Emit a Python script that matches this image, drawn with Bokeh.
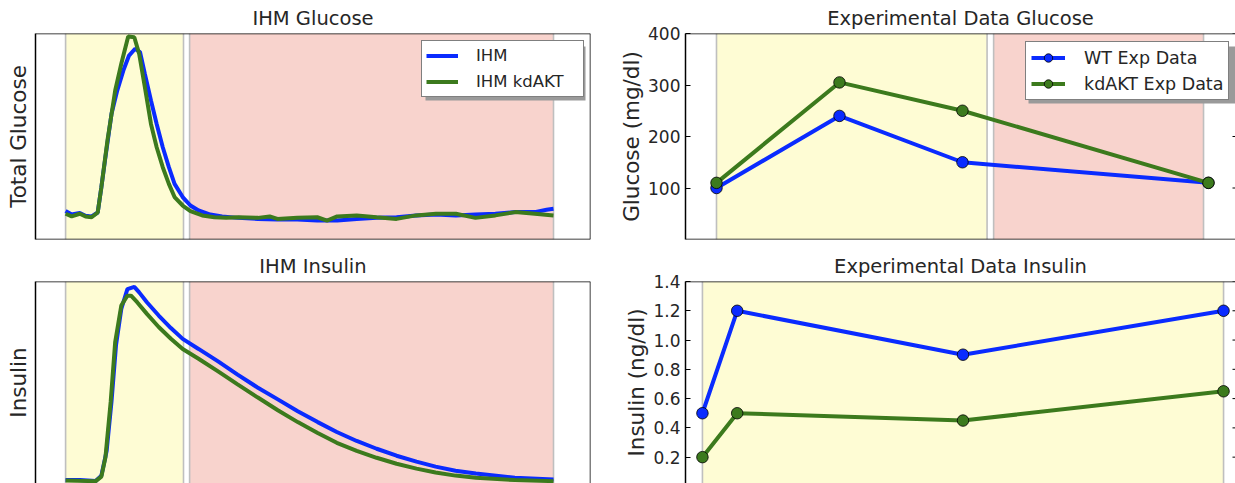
from bokeh.plotting import figure
from bokeh.layouts import column, row
from bokeh.models import (Range1d, BoxAnnotation, Span, Legend, LegendItem, FixedTicker,
                          PrintfTickFormatter)
from bokeh.embed import file_html
from bokeh.resources import INLINE

FONT = "DejaVu Sans"
BLUE = "#0a2bff"
GREEN = "#3c7a1d"
YELLOW = "#fefcd4"
PINK = "#f8d3cd"
EDGE = "#bfbfbf"
TEXT = "#262626"
SHADOW = "#9a9a9a"

# ---------------- IHM model curves (arbitrary units, time in model minutes) ----------------
glc_ihm_t = [0, 1.5, 3.5, 4.9, 6.4, 7.9, 8.8, 9.8, 11.3, 12.7, 14.2, 15.6, 17.1, 18.3, 19.5,
             21.0, 22.4, 23.9, 25.4, 26.8, 28.8, 30.7, 32.7, 35.6, 38.5, 42.4, 47.3, 52.1,
             57.0, 61.9, 66.8, 71.6, 76.5, 81.4, 86.2, 91.1, 96.0, 100.8, 105.7, 110.6,
             115.4, 118.3, 120.0]
glc_ihm = [13.8, 12.1, 12.9, 11.5, 11.2, 13.1, 25.4, 40.0, 61.0, 72.3, 82.0, 89.3, 92.6, 91.0,
           80.4, 67.5, 56.1, 44.8, 35.1, 27.0, 20.6, 16.5, 14.1, 12.1, 11.2, 10.5, 10.0, 9.7,
           9.7, 9.2, 9.2, 10.0, 10.5, 10.8, 11.7, 12.1, 11.7, 12.1, 12.5, 13.3, 13.3, 14.4, 14.9]

glc_kd_t = [0, 1.5, 3.5, 4.9, 6.4, 7.9, 8.8, 10.3, 12.2, 13.7, 15.4, 16.9, 18.1, 19.5, 21.0,
            22.4, 23.9, 25.4, 26.8, 28.8, 30.7, 33.6, 36.6, 39.5, 42.4, 47.3, 50.2, 52.1,
            57.0, 61.9, 64.3, 66.8, 71.6, 76.5, 81.4, 86.2, 91.1, 96.0, 100.8, 105.7,
            110.6, 115.4, 120.0]
glc_kd = [12.5, 11.2, 12.5, 11.2, 10.8, 13.1, 25.4, 48.1, 72.3, 85.3, 98.5, 98.2, 90.1, 73.9,
          56.1, 44.8, 35.1, 27.0, 20.6, 16.5, 13.8, 11.7, 10.8, 10.5, 10.8, 10.5, 11.2, 10.0,
          10.5, 10.8, 9.2, 11.2, 11.7, 10.8, 10.0, 11.7, 12.5, 12.5, 10.5, 11.7, 13.3, 12.5, 11.7]

ins_ihm_t = [0, 3.5, 7.4, 8.8, 10.1, 11.3, 12.4, 13.7, 15.2, 16.9, 18.1, 20.0, 22.9, 25.9,
             28.8, 32.7, 37.6, 42.3, 47.2, 52.2, 57.1, 62.0, 66.7, 71.6, 76.5, 81.4, 86.3,
             91.0, 95.9, 100.9, 110.5, 120.0]
ins_ihm = [3.2, 3.2, 2.7, 5.3, 17.4, 41.5, 68.9, 86.6, 96.3, 97.4, 94.7, 89.9, 83.4, 77.3,
           72.0, 67.1, 60.9, 54.6, 48.3, 42.5, 36.7, 31.4, 26.6, 22.2, 18.4, 15.0, 12.1,
           9.7, 7.7, 6.3, 4.3, 3.4]

ins_kd_t = [0, 7.4, 8.8, 9.8, 11.1, 12.2, 13.7, 15.2, 16.1, 17.6, 20.0, 22.9, 25.9, 28.8,
            32.7, 37.6, 42.3, 47.2, 52.2, 57.1, 62.0, 66.7, 71.6, 76.5, 81.4, 86.3, 91.0,
            95.9, 100.9, 110.5, 120.0]
ins_kd = [2.9, 2.6, 4.8, 14.2, 41.5, 70.5, 88.3, 93.1, 93.1, 89.9, 84.2, 77.8, 72.1, 67.1,
          62.3, 56.0, 49.8, 43.5, 37.2, 31.4, 26.1, 21.3, 17.4, 14.0, 11.1, 8.7, 6.8, 5.3,
          4.3, 3.1, 2.6]

ihm_yellow = [0, 29.0]
ihm_pink = [30.5, 120.0]

# ---------------- Experimental data ----------------
exp_glc_time = [0, 15, 30, 60]
exp_glc_wt = [100, 240, 150, 110]
exp_glc_kd = [110, 305, 250, 110]
exp_glc_yellow = [0, 33.0]
exp_glc_pink = [33.8, 59.4]
glc_ticks = [100, 200, 300, 400]

exp_ins_time = [0, 8, 60, 120]
exp_ins_wt = [0.5, 1.2, 0.9, 1.2]
exp_ins_kd = [0.2, 0.5, 0.45, 0.65]
exp_ins_yellow = [0, 120]
ins_ticks = [0.2, 0.4, 0.6, 0.8, 1.0, 1.2, 1.4]

LW = 4


def make_fig(width, height, xr, yr, mbl, mbr, mbt, mbb, title, ylabel):
    p = figure(width=width, height=height, x_range=xr, y_range=yr,
               output_backend="svg", toolbar_location=None,
               min_border_left=mbl, min_border_right=mbr,
               min_border_top=mbt, min_border_bottom=mbb, title=title)
    p.outline_line_color = None
    p.grid.visible = False
    p.xaxis.visible = False
    p.background_fill_color = "white"
    p.border_fill_color = "white"
    t = p.title
    t.align = "center"
    t.text_font = FONT
    t.text_font_size = "19.5px"
    t.text_font_style = "normal"
    t.text_color = TEXT
    t.standoff = 8
    ax = p.yaxis[0]
    ax.axis_label = ylabel
    ax.axis_label_text_font = FONT
    ax.axis_label_text_font_size = "21.5px"
    ax.axis_label_text_font_style = "normal"
    ax.axis_label_text_color = TEXT
    ax.axis_line_color = "black"
    ax.axis_line_width = 1.5
    ax.minor_tick_line_color = None
    ax.minor_tick_out = 0
    ax.minor_tick_in = 0
    ax.major_label_text_font = FONT
    ax.major_label_text_color = TEXT
    return p


def right_ticks(p, xr, ticks, frame_px):
    # short inward tick marks on the (cropped) right edge, at the tick values
    d = 3.0 / frame_px * (xr.end - xr.start)
    n = len(ticks)
    p.segment(x0=[xr.end - d] * n, y0=ticks, x1=[xr.end] * n, y1=ticks,
              line_color="black", line_width=1)


def shade(p, span, color):
    p.add_layout(BoxAnnotation(left=span[0], right=span[1], fill_color=color, fill_alpha=1.0,
                               line_color=None, level="underlay"))
    for loc in span:
        p.add_layout(Span(location=loc, dimension="height", line_color=EDGE, line_width=1.6,
                          level="underlay"))


def border(p, side, loc):
    dim = "width" if side in ("top", "bottom") else "height"
    p.add_layout(Span(location=loc, dimension=dim, line_color="black", line_width=1.5))


def shadow(p, frame, xr, yr, box):
    # frame/box given in screen pixels (left, right, top, bottom); converted to data units
    L, R, T, B = frame
    def fx(px):
        return xr.start + (px - L) / (R - L) * (xr.end - xr.start)
    def fy(py):
        return yr.start + (B - py) / (B - T) * (yr.end - yr.start)
    p.add_layout(BoxAnnotation(left=fx(box[0]), right=fx(box[1]), top=fy(box[2]),
                               bottom=fy(box[3]), fill_color=SHADOW, fill_alpha=1.0,
                               line_color=None))


def style_legend(lg, size):
    lg.label_text_font = FONT
    lg.label_text_font_size = size
    lg.label_text_color = TEXT
    lg.border_line_color = "black"
    lg.border_line_width = 1.2
    lg.background_fill_color = "white"
    lg.background_fill_alpha = 1.0
    lg.padding = 4
    lg.glyph_height = 21
    lg.label_height = 21
    lg.spacing = 5


# ---------- top-left ----------
xr1, yr1 = Range1d(-7.4, 129.1), Range1d(0, 100)
p1 = make_fig(600, 248, xr1, yr1, 35, 10, 33, 9, "IHM Glucose", "Total Glucose")
p1.yaxis[0].ticker = FixedTicker(ticks=[])
p1.yaxis[0].major_tick_line_color = None
p1.yaxis[0].axis_label_standoff = 5
shade(p1, ihm_yellow, YELLOW)
shade(p1, ihm_pink, PINK)
l1 = p1.line(glc_ihm_t, glc_ihm, line_width=LW, color=BLUE)
l2 = p1.line(glc_kd_t, glc_kd, line_width=LW, color=GREEN)
border(p1, "top", 100)
border(p1, "bottom", 0)
border(p1, "right", 129.1)
shadow(p1, (35, 590, 33, 239), xr1, yr1, (425, 585, 46, 100))
lg1 = Legend(items=[LegendItem(label="IHM", renderers=[l1]),
                    LegendItem(label="IHM kdAKT", renderers=[l2])],
             location=(386, 142))
style_legend(lg1, "16.5px")
lg1.glyph_width = 32
lg1.label_standoff = 18
lg1.label_width = 103
p1.add_layout(lg1)

# ---------- top-right ----------
xr2, yr2 = Range1d(-3.78, 63.3), Range1d(0, 400)
p2 = make_fig(635, 248, xr2, yr2, 85, 0, 33, 9,
              "Experimental Data Glucose", "Glucose (mg/dl)")
ax = p2.yaxis[0]
ax.ticker = FixedTicker(ticks=glc_ticks)
ax.major_tick_in = 5
ax.major_tick_out = 0
ax.major_tick_line_color = "black"
ax.major_label_text_font_size = "17px"
ax.major_label_standoff = 5
ax.axis_label_standoff = 1
shade(p2, exp_glc_yellow, YELLOW)
shade(p2, exp_glc_pink, PINK)
right_ticks(p2, xr2, glc_ticks, 550)
a1 = p2.line(exp_glc_time, exp_glc_wt, line_width=LW, color=BLUE)
a2 = p2.scatter(exp_glc_time, exp_glc_wt, size=11.5, fill_color=BLUE, line_color="black", line_width=0.8)
b1 = p2.line(exp_glc_time, exp_glc_kd, line_width=LW, color=GREEN)
b2 = p2.scatter(exp_glc_time, exp_glc_kd, size=11.5, fill_color=GREEN, line_color="black", line_width=0.8)
border(p2, "top", 400)
border(p2, "bottom", 0)
shadow(p2, (685, 1235, 33, 239), xr2, yr2, (1028, 1235, 46, 103))
lg2 = Legend(items=[LegendItem(label="WT Exp Data", renderers=[a1, a2]),
                    LegendItem(label="kdAKT Exp Data", renderers=[b1, b2])],
             location=(340, 139))
style_legend(lg2, "17.5px")
lg2.padding = 5
lg2.glyph_width = 34
lg2.label_standoff = 19
p2.add_layout(lg2)

# ---------- bottom-left ----------
p3 = make_fig(600, 235, Range1d(-7.4, 129.1), Range1d(1.45, 100), 35, 10, 31, 0,
              "IHM Insulin", "Insulin")
p3.yaxis[0].ticker = FixedTicker(ticks=[])
p3.yaxis[0].major_tick_line_color = None
p3.yaxis[0].axis_label_standoff = 5
shade(p3, ihm_yellow, YELLOW)
shade(p3, ihm_pink, PINK)
p3.line(ins_ihm_t, ins_ihm, line_width=LW, color=BLUE)
p3.line(ins_kd_t, ins_kd, line_width=LW, color=GREEN)
border(p3, "top", 100)
border(p3, "right", 129.1)

# ---------- bottom-right ----------
xr4 = Range1d(-3.9, 122.75)
p4 = make_fig(635, 235, xr4, Range1d(0.02, 1.4), 85, 0, 31, 0,
              "Experimental Data Insulin", "Insulin (ng/dl)")
ax = p4.yaxis[0]
ax.ticker = FixedTicker(ticks=ins_ticks)
ax.formatter = PrintfTickFormatter(format="%.1f")
ax.major_tick_in = 5
ax.major_tick_out = 0
ax.major_tick_line_color = "black"
ax.major_label_text_font_size = "17px"
ax.major_label_standoff = 5
ax.axis_label_standoff = 1
shade(p4, exp_ins_yellow, YELLOW)
right_ticks(p4, xr4, ins_ticks, 550)
p4.line(exp_ins_time, exp_ins_wt, line_width=LW, color=BLUE)
p4.scatter(exp_ins_time, exp_ins_wt, size=11.5, fill_color=BLUE, line_color="black", line_width=0.8)
p4.line(exp_ins_time, exp_ins_kd, line_width=LW, color=GREEN)
p4.scatter(exp_ins_time, exp_ins_kd, size=11.5, fill_color=GREEN, line_color="black", line_width=0.8)
border(p4, "top", 1.4)

layout = column(row(p1, p2), row(p3, p4))
open("out.html", "w").write(file_html(layout, INLINE))
